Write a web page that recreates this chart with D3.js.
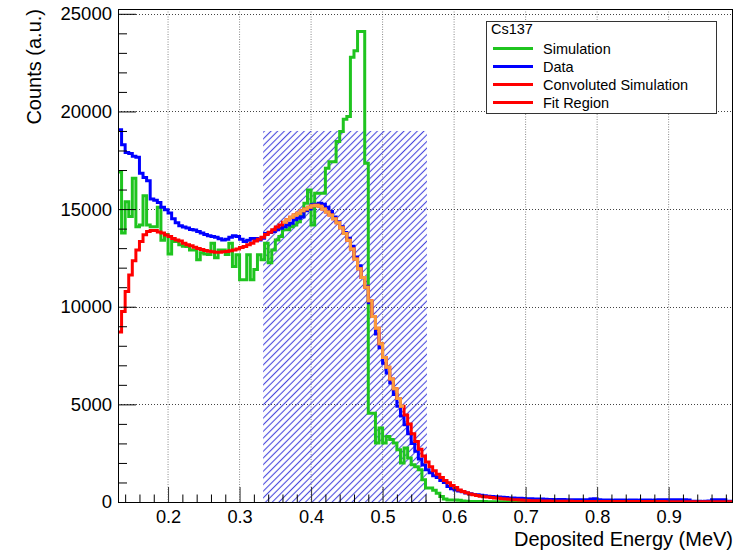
<!DOCTYPE html>
<html><head><meta charset="utf-8">
<script src="https://cdn.jsdelivr.net/npm/d3@7"></script>
<style>
html,body{margin:0;padding:0;background:#fff;}
svg{display:block;font-family:"Liberation Sans",Arial,Helvetica,sans-serif;}
</style>
</head><body>
<svg id="c" width="735" height="551"></svg>
<script>
// ---- data (bins of 0.005 MeV starting at 0.13 MeV) ----
const binLow = 0.13;
const binWidth = 0.005;

const simulation = [
16900,13770,15380,14620,16580,14100,14190,15680,14190,14100,
14100,15100,13400,13700,12700,13340,13340,13170,13100,13080,
12910,12910,12400,12760,12700,12680,13250,12510,12900,12900,
12680,13250,12060,12660,11380,11380,12660,11380,11900,12660,
12400,13250,12250,12910,13420,13590,13940,13940,14100,14190,
14350,14620,15300,15980,14190,15810,15810,15810,17090,17430,
17430,18460,18970,19600,19740,22780,23110,24090,24090,17350,
4550,4550,3020,3790,3020,3360,3200,3020,2680,2000,
2760,2250,1910,1800,1650,1140,720,720,600,450,
280,150,100,100,100,90,50,40,30,25,
20,20,20,15,15,15,10,10,10,10,
10,8,8,8,8,6,6,6,6,5,
5,5,5,5,5,5,0,0,0,0,
0,0,0,0,0,0,0,0,0,0,
0,0,0,0,0,0,0,0,0,0,
0,0,0,0,0,0,0,0,0,0,
0,0,0,0,0,0,0,0,0,0,
0,0];

const data = [
19060,18300,17900,17850,17700,17650,16840,16620,16450,15520,
15450,15340,15100,14970,14800,14500,14300,14150,14080,14030,
13960,13930,13850,13770,13700,13640,13590,13560,13480,13420,
13450,13560,13630,13600,13450,13340,13400,13490,13490,13420,
13500,13750,13800,13850,13940,14020,14100,14190,14280,14450,
14530,14600,14920,15000,15220,15250,15300,15250,15100,14870,
14600,14350,14100,13800,13500,13100,12550,12100,11500,11050,
10200,9500,8600,7900,7100,6600,6100,5500,4900,4400,
3950,3500,3000,2600,2200,1900,1650,1500,1350,1250,
1100,1000,800,680,620,560,520,460,420,390,
370,350,320,300,280,270,250,240,230,210,
200,190,190,180,170,170,160,150,150,140,
130,130,120,125,130,120,120,115,120,110,
120,110,150,170,110,100,105,100,95,100,
105,100,95,100,100,95,100,105,100,95,
100,110,120,115,120,120,115,120,110,100,
40,35,40,30,35,45,120,115,120,110,
40,35];

const convoluted = [
8700,9750,10780,11630,12350,12910,13340,13680,13850,13900,
13900,13830,13770,13670,13590,13490,13420,13360,13250,13170,
13120,13050,12980,12930,12880,12840,12810,12790,12790,12810,
12830,12860,12910,12960,13030,13080,13170,13250,13360,13460,
13560,13700,13820,13940,14080,14190,14330,14450,14580,14700,
14790,14910,15010,15100,15170,15200,15150,15000,14850,14700,
14500,14300,14050,13750,13400,12950,12450,11950,11500,11000,
10300,9500,8900,8100,7400,6900,6300,5800,5300,4900,
4450,4000,3500,3100,2700,2350,2050,1800,1600,1420,
1250,1100,980,850,740,620,540,470,410,370,
330,300,270,250,230,210,190,170,150,140,
120,110,100,90,80,70,65,60,55,50,
45,40,38,36,35,34,33,32,31,30,
30,29,28,28,27,27,26,26,25,25,
24,24,23,23,22,22,22,21,21,21,
20,20,20,19,19,19,18,18,18,18,
17,17,17,17,16,16,16,16,15,15,
15,15];

const fitRange = [0.36, 0.53];          // orange part of convoluted simulation
const hatchRange = [0.333, 0.562];      // hatched fit window
const hatchTop = 19000;
const xDomain = [0.13, 0.99];
const yMax = 25246;
const xMajor = [0.2,0.3,0.4,0.5,0.6,0.7,0.8,0.9];
const xMinor = [0.14,0.16,0.18,0.22,0.24,0.26,0.28,0.32,0.34,0.36,0.38,0.42,0.44,0.46,0.48,0.52,0.54,0.56,0.58,0.62,0.64,0.66,0.68,0.72,0.74,0.76,0.78,0.82,0.84,0.86,0.88,0.92,0.94,0.96,0.98];
const yMajor = [0,5000,10000,15000,20000,25000];
const yMinor = [1000,2000,3000,4000,6000,7000,8000,9000,11000,12000,13000,14000,16000,17000,18000,19000,21000,22000,23000,24000];
const legendHeader = "Cs137";
const legendLabels = ["Simulation","Data","Convoluted Simulation","Fit Region"];
const legendColors = ["#1fc41f","#0000ff","#ff0000","#ff0000"];
const xTitle = "Deposited Energy (MeV)";
const yTitle = "Counts (a.u.)";

// ---- drawing ----
const C = {green:"#1fc41f", blue:"#0000ff", red:"#ff0000", orange:"#f99b3e", hatch:"#4848dc"};
const L = 118, R = 733, T = 9, B = 502;
const svg = d3.select("#c");
const x = d3.scaleLinear().domain(xDomain).range([L, R]);
const y = d3.scaleLinear().domain([0, yMax]).range([B, T]);

const defs = svg.append("defs");
defs.append("clipPath").attr("id","plot").append("rect")
  .attr("x",L).attr("y",T).attr("width",R-L).attr("height",B-T);
const pat = defs.append("pattern").attr("id","hatch")
  .attr("patternUnits","userSpaceOnUse").attr("width",4.7).attr("height",4.7)
  .attr("patternTransform","rotate(45)");
pat.append("line").attr("x1",2.35).attr("y1",-1).attr("x2",2.35).attr("y2",6)
  .attr("stroke",C.hatch).attr("stroke-width",1.1);

// grid
const grid = svg.append("g");
grid.selectAll(".vg").data(xMajor).join("line")
  .attr("x1",d=>x(d)).attr("x2",d=>x(d)).attr("y1",T).attr("y2",B)
  .attr("stroke","#888").attr("stroke-width",1).attr("stroke-dasharray","1,1.5");
grid.selectAll(".hg").data(yMajor.filter(v=>v>0)).join("line")
  .attr("x1",L).attr("x2",R).attr("y1",d=>Math.round(y(d))+0.5).attr("y2",d=>Math.round(y(d))+0.5)
  .attr("stroke","#444").attr("stroke-width",1).attr("stroke-dasharray","1,2");

// hatched fit window
svg.append("rect")
  .attr("x",x(hatchRange[0])).attr("y",y(hatchTop))
  .attr("width",x(hatchRange[1])-x(hatchRange[0])).attr("height",y(0)-y(hatchTop))
  .attr("fill","url(#hatch)");

function stepPath(vals, i0, i1) {
  const pts = [];
  for (let i = i0; i <= i1; i++) pts.push([binLow + i*binWidth, vals[i]]);
  pts.push([binLow + (i1+1)*binWidth, vals[i1]]);
  return d3.line().x(d=>x(d[0])).y(d=>y(d[1])).curve(d3.curveStepAfter)(pts);
}
const plot = svg.append("g").attr("clip-path","url(#plot)");
function drawHist(vals, color, i0, i1) {
  plot.append("path").attr("d", stepPath(vals, i0, i1))
    .attr("fill","none").attr("stroke",color).attr("stroke-width",3)
    .attr("stroke-linejoin","miter").attr("stroke-linecap","butt");
}
drawHist(simulation, C.green, 0, simulation.length-1);
drawHist(data, C.blue, 0, data.length-1);
drawHist(convoluted, C.red, 0, convoluted.length-1);
const f0 = Math.round((fitRange[0]-binLow)/binWidth), f1 = Math.round((fitRange[1]-binLow)/binWidth)-1;
drawHist(convoluted, C.orange, f0, f1);

// axes (ticks inside, ROOT style)
const fs = 18.2;
const xAx = svg.append("g").attr("transform",`translate(0,${B})`)
  .call(d3.axisBottom(x).tickValues(xMajor).tickSizeInner(-15).tickSizeOuter(0).tickPadding(8).tickFormat(d3.format(".1f")));
xAx.select(".domain").remove();
xAx.selectAll("text").attr("font-size",fs).attr("fill","#000").attr("font-family","Liberation Sans, Arial, sans-serif");
xAx.selectAll("line").attr("stroke","#333");
const xAxm = svg.append("g").attr("transform",`translate(0,${B})`)
  .call(d3.axisBottom(x).tickValues(xMinor).tickSizeInner(-7.5).tickSizeOuter(0).tickFormat(""));
xAxm.select(".domain").remove();
xAxm.selectAll("line").attr("stroke","#000");

const yAx = svg.append("g").attr("transform",`translate(${L},0)`)
  .call(d3.axisLeft(y).tickValues(yMajor).tickSizeInner(-18).tickSizeOuter(0).tickPadding(6).tickFormat(d3.format("d")));
yAx.select(".domain").remove();
yAx.selectAll("text").attr("font-size",18.5).attr("fill","#000").attr("font-family","Liberation Sans, Arial, sans-serif");
yAx.selectAll("line").attr("stroke","#000");
const yAxm = svg.append("g").attr("transform",`translate(${L},0)`)
  .call(d3.axisLeft(y).tickValues(yMinor).tickSizeInner(-9).tickSizeOuter(0).tickFormat(""));
yAxm.select(".domain").remove();
yAxm.selectAll("line").attr("stroke","#000");

// frame
svg.append("rect").attr("x",L+0.5).attr("y",T+0.5).attr("width",R-L-1).attr("height",B-T)
  .attr("fill","none").attr("stroke","#000").attr("stroke-width",1);

// titles
svg.append("text").attr("x",R).attr("y",545.5).attr("text-anchor","end")
  .attr("font-size",20).text(xTitle);
svg.append("text").attr("transform",`translate(41,9) rotate(-90)`).attr("text-anchor","end")
  .attr("font-size",20).text(yTitle);

// legend
const lg = svg.append("g");
lg.append("rect").attr("x",486.5).attr("y",21.5).attr("width",230).attr("height",92)
  .attr("fill","#fff").attr("stroke","#333").attr("stroke-width",1);
lg.append("text").attr("x",491).attr("y",34).attr("font-size",14.5).text(legendHeader);
const rowY = [48.5, 66.5, 84.5, 102.5];
legendLabels.forEach((lab,i)=>{
  lg.append("line").attr("x1",493).attr("x2",533).attr("y1",rowY[i]).attr("y2",rowY[i])
    .attr("stroke",legendColors[i]).attr("stroke-width",3);
  lg.append("text").attr("x",543).attr("y",rowY[i]+5).attr("font-size",14.5).text(lab);
});
</script>
</body></html>
